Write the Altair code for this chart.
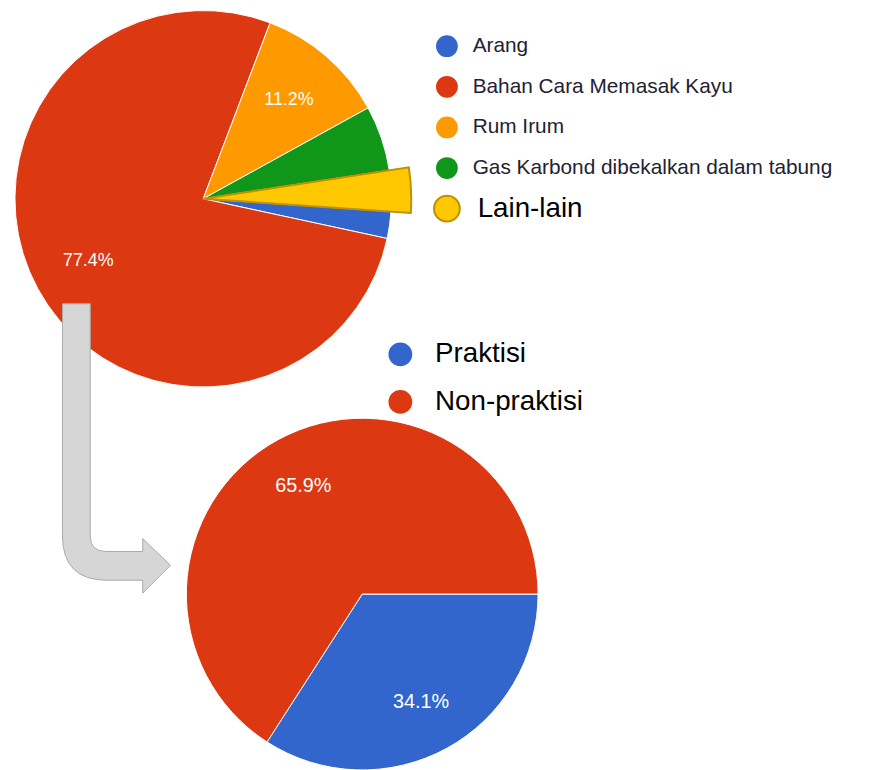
import math
import altair as alt
import pandas as pd

# ---------------- data ----------------
top_cats = ["Arang", "Bahan Cara Memasak Kayu", "Rum Irum",
            "Gas Karbond dibekalkan dalam tabung", "Lain-lain"]
top_vals = [2.3, 77.4, 11.2, 5.6, 3.5]
top_colors = ["#3366cc", "#dc3912", "#ff9900", "#109618", "#ffc800"]

bottom_cats = ["Praktisi", "Non-praktisi"]
bottom_vals = [34.1, 65.9]
bottom_colors = ["#3366cc", "#dc3912"]

# ---------------- layout ----------------
M = 8  # page margin


def cx(x):
    return x - M


def cy(y):
    return y - M


TOP_C = (205, 197)
TOP_R = 190
TOP_EXPLODE_R = 210
TOP_START = math.radians(93.9)
TOP_LABEL_R = 132

BOT_C = (365.5, 596)
BOT_R = 177.5
BOT_START = math.radians(90.0)
BOT_LABEL_R = 124

W, H = 869, 762

# ---------------- top pie ----------------
top_df = pd.DataFrame({
    "cat": top_cats,
    "val": top_vals,
    "color": top_colors,
    "idx": list(range(len(top_cats))),
})
top_df["hi"] = [1.0 if c == "Lain-lain" else 0.0 for c in top_cats]
top_df["lo"] = [0.0 if c == "Lain-lain" else 1.0 for c in top_cats]
top_df["lbl"] = [f"{v:.1f}%" if v >= 10 else "" for v in top_vals]


def top_theta():
    return alt.Theta("val:Q", stack=True,
                     scale=alt.Scale(range=[TOP_START, TOP_START + 2 * math.pi]))


top_center = dict(x=alt.value(cx(TOP_C[0])), y=alt.value(cy(TOP_C[1])))

top_pie = alt.Chart(top_df).mark_arc(radius=TOP_R, stroke="#ffffff", strokeWidth=1).encode(
    theta=top_theta(),
    fill=alt.Fill("color:N", scale=None),
    fillOpacity=alt.FillOpacity("lo:Q", scale=None),
    strokeOpacity=alt.StrokeOpacity("lo:Q", scale=None),
    order=alt.Order("idx:Q"),
    **top_center,
)

top_hi = alt.Chart(top_df).mark_arc(
    radius=TOP_EXPLODE_R, stroke="#bf9000", strokeWidth=2, strokeJoin="miter"
).encode(
    theta=top_theta(),
    fill=alt.Fill("color:N", scale=None),
    fillOpacity=alt.FillOpacity("hi:Q", scale=None),
    strokeOpacity=alt.StrokeOpacity("hi:Q", scale=None),
    order=alt.Order("idx:Q"),
    **top_center,
)

top_text = alt.Chart(top_df).mark_text(
    radius=TOP_LABEL_R, color="white", fontSize=18, font="Arial"
).encode(
    theta=top_theta(),
    text="lbl:N",
    order=alt.Order("idx:Q"),
    **top_center,
)

top_layer = alt.layer(top_pie, top_hi, top_text).resolve_scale(theta="independent")

# ---------------- bottom pie ----------------
bot_df = pd.DataFrame({
    "cat": bottom_cats,
    "val": bottom_vals,
    "color": bottom_colors,
    "idx": list(range(len(bottom_cats))),
})
bot_df["lbl"] = [f"{v:.1f}%" for v in bottom_vals]


def bot_theta():
    return alt.Theta("val:Q", stack=True,
                     scale=alt.Scale(range=[BOT_START, BOT_START + 2 * math.pi]))


bot_center = dict(x=alt.value(cx(BOT_C[0])), y=alt.value(cy(BOT_C[1])))

bot_pie = alt.Chart(bot_df).mark_arc(radius=BOT_R, stroke="#ffffff", strokeWidth=1).encode(
    theta=bot_theta(),
    fill=alt.Fill("color:N", scale=None),
    order=alt.Order("idx:Q"),
    **bot_center,
)

bot_text = alt.Chart(bot_df).mark_text(
    radius=BOT_LABEL_R, color="white", fontSize=20, font="Arial"
).encode(
    theta=bot_theta(),
    text="lbl:N",
    order=alt.Order("idx:Q"),
    **bot_center,
)

bot_layer = alt.layer(bot_pie, bot_text).resolve_scale(theta="independent")

# ---------------- legends ----------------
TOP_LEG_X = 451
TOP_LEG_Y0 = 43
TOP_LEG_STEP = 41
leg_top = pd.DataFrame({"cat": top_cats, "color": top_colors})
leg_top["ly"] = [cy(TOP_LEG_Y0 + i * TOP_LEG_STEP) for i in range(len(top_cats))]
leg_top["lx"] = [cx(482) if c == "Lain-lain" else cx(477) for c in top_cats]
leg_top["fs"] = [28 if c == "Lain-lain" else 21 for c in top_cats]
leg_top["tc"] = ["#000000" if c == "Lain-lain" else "#222233" for c in top_cats]
leg_top["ms"] = [676 if c == "Lain-lain" else 484 for c in top_cats]
leg_top["mst"] = ["#bf9000" if c == "Lain-lain" else "#ffffff" for c in top_cats]
leg_top["msw"] = [2 if c == "Lain-lain" else 0 for c in top_cats]

leg_top_pts = alt.Chart(leg_top).mark_point(shape="circle", filled=True, opacity=1).encode(
    x=alt.value(cx(TOP_LEG_X)),
    y=alt.Y("ly:Q", scale=None),
    fill=alt.Fill("color:N", scale=None),
    size=alt.Size("ms:Q", scale=None),
    stroke=alt.Stroke("mst:N", scale=None),
    strokeWidth=alt.StrokeWidth("msw:Q", scale=None),
)
leg_top_txt = alt.Chart(leg_top).mark_text(align="left", baseline="middle", font="Arial").encode(
    x=alt.X("lx:Q", scale=None),
    y=alt.Y("ly:Q", scale=None),
    text="cat:N",
    size=alt.Size("fs:Q", scale=None),
    color=alt.Color("tc:N", scale=None),
)

BOT_LEG_X = 404
BOT_LEG_Y0 = 354
BOT_LEG_STEP = 48
leg_bot = pd.DataFrame({"cat": bottom_cats, "color": bottom_colors})
leg_bot["ly"] = [cy(BOT_LEG_Y0 + i * BOT_LEG_STEP) for i in range(len(bottom_cats))]

leg_bot_pts = alt.Chart(leg_bot).mark_point(shape="circle", filled=True, opacity=1, size=576).encode(
    x=alt.value(cx(BOT_LEG_X)),
    y=alt.Y("ly:Q", scale=None),
    fill=alt.Fill("color:N", scale=None),
)
leg_bot_txt = alt.Chart(leg_bot).mark_text(
    align="left", baseline="middle", font="Arial", fontSize=28, color="#000000"
).encode(
    x=alt.value(cx(439)),
    y=alt.Y("ly:Q", scale=None),
    text="cat:N",
)

# ---------------- bent arrow (decoration) ----------------
AC = (118, 449)
AH = 150.0
arrow_pts = [
    ("M", [(63, 303)]), ("L", [(91, 303)]), ("L", [(91, 537)]),
    ("Q", [(91, 553), (107, 553)]), ("L", [(144, 553)]), ("L", [(144, 540)]),
    ("L", [(172, 567)]), ("L", [(144, 595)]), ("L", [(144, 582)]),
    ("L", [(108, 582)]), ("Q", [(63, 582), (63, 537)]),
]
parts = []
for cmd, pts in arrow_pts:
    coords = " ".join(f"{(x - AC[0]) / AH:.4f} {(y - AC[1]) / AH:.4f}" for x, y in pts)
    parts.append(f"{cmd} {coords}")
arrow_path = " ".join(parts) + " Z"

arrow = alt.Chart(pd.DataFrame({"a": [0]})).mark_point(
    shape=arrow_path, filled=True, fill="#d6d6d6", stroke="#aaaaaa",
    strokeWidth=1, opacity=1, size=(2 * AH) ** 2
).encode(
    x=alt.value(cx(AC[0])),
    y=alt.value(cy(AC[1])),
)

chart = alt.layer(
    top_layer, bot_layer, arrow,
    leg_top_pts, leg_top_txt, leg_bot_pts, leg_bot_txt,
).resolve_scale(theta="independent").properties(
    width=W, height=H, autosize=alt.AutoSizeParams(type="none"), padding=0,
    background="white",
).configure_view(stroke=None)

chart.save("out.html", embed_options={"renderer": "svg", "actions": False})
